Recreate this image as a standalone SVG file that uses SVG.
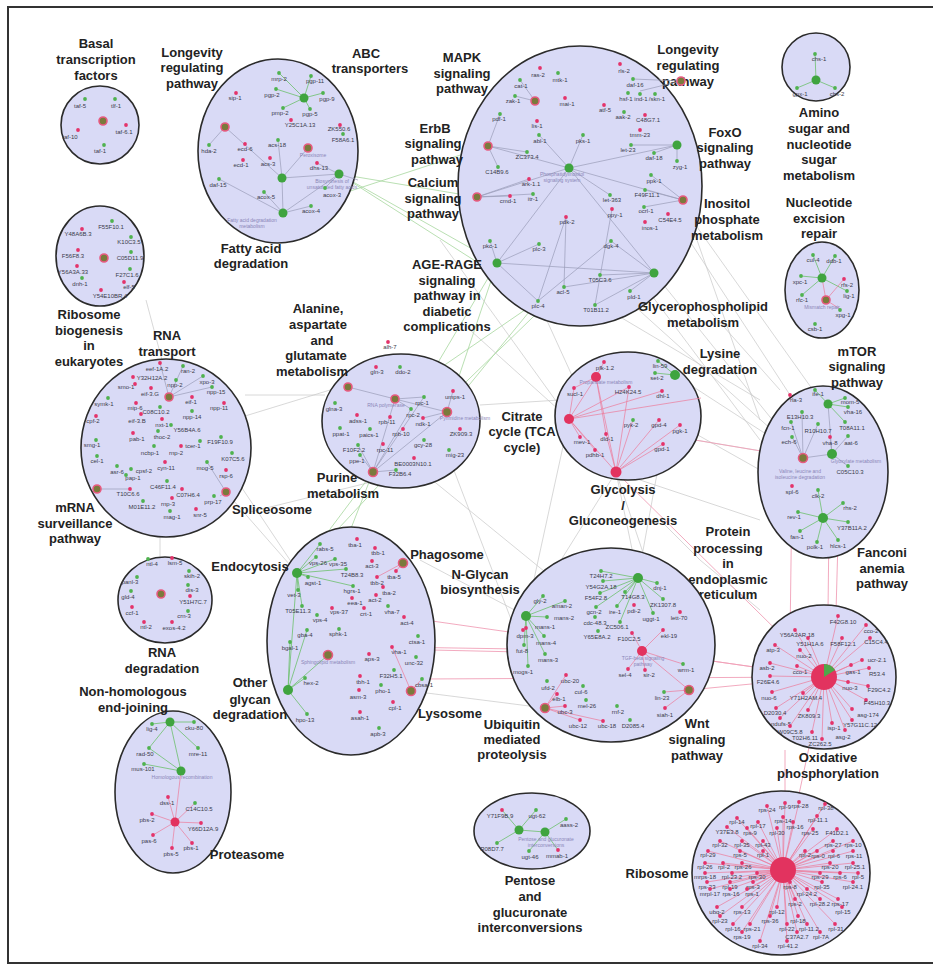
<svg xmlns="http://www.w3.org/2000/svg" width="933" height="967" viewBox="0 0 933 967">
<style>
.c{fill:#d9daf6;stroke:#2b2b2b;stroke-width:1.6}
.t{font-family:"Liberation Sans",Arial,sans-serif;font-weight:bold;font-size:13px;fill:#222;text-anchor:middle}
.n{font-family:"Liberation Sans",Arial,sans-serif;font-size:6px;fill:#3a3a4a;text-anchor:middle}
.p{font-family:"Liberation Sans",Arial,sans-serif;font-size:5px;fill:#8a86b8;text-anchor:middle}
.g{fill:#4fb24f}
.r{fill:#e4336a}
.hg{fill:#3fa43f}
.hr{fill:#e2335f}
.hm{fill:#7a7a3c;stroke:#e85a80;stroke-width:1.6}
.e{stroke:#9a9cb8;stroke-width:0.7;fill:none}
.eg{stroke:#6cc06c;stroke-width:0.8;fill:none}
.er{stroke:#ec7a9a;stroke-width:0.7;fill:none}
.x{stroke:#c8c8c8;stroke-width:0.9;fill:none;opacity:0.8}
.xg{stroke:#a8d8a0;stroke-width:0.9;fill:none;opacity:0.9}
.xr{stroke:#f0a0b8;stroke-width:0.9;fill:none}
</style>
<rect x="8" y="7" width="940" height="956" fill="#fff" stroke="#333" stroke-width="2"/>

<g id="connectors-between">
<path class="x" d="M146 300L162 360M245 395L325 395M480 405L560 400M226 492L297 573M160 537L160 557M230 470L330 620M250 512L420 470M232 420L330 390"/>
<path class="xg" d="M339 174L477 197M339 174L497 263M283 213L488 146M339 174L538 301M447 412L497 263M447 412L538 301M373 472L497 263M373 472L564 287M297 573L373 472M297 573L447 412M288 690L373 472M395 399L538 301"/>
<path class="x" d="M654 273L803 458M683 200L760 420M611 241L760 440M600 275L803 458M697 227L820 400M569 419L803 458M675 375L803 458M616 472L760 520M680 425L760 470M538 301L616 472M600 305L760 400M700 300L780 390M650 180L790 395M470 330L569 419M440 240L569 419"/>
<path class="x" d="M616 472L638 578M569 419L526 616M616 472L689 690M675 375L638 578M616 472L526 616M450 460L545 708M420 470L642 651M411 691L545 708M420 560L526 616M660 520L700 560M700 560L760 610"/>
<path class="xr" d="M569 419L803 458M392 647L642 651L824 677M404 617L824 677M422 679L824 677M432 650L520 652M689 690L824 677M616 472L824 677M792 486L790 640M830 437L828 612M838 540L836 612M785 750L785 860M824 677L785 860"/>
</g>

<g id="basal">
<circle class="c" cx="100" cy="125" r="39"/>
<text class="t"><tspan x="96" y="48">Basal</tspan><tspan x="96" y="64">transcription</tspan><tspan x="96" y="80">factors</tspan></text>
<circle class="hm" cx="103" cy="121" r="4"/>
<circle class="g" cx="85" cy="99" r="1.9"/><text class="n" x="80" y="108">taf-5</text>
<circle class="g" cx="115" cy="99" r="1.9"/><text class="n" x="116" y="108">tlf-1</text>
<circle class="r" cx="78" cy="130" r="1.9"/><text class="n" x="70" y="139">taf-10</text>
<circle class="r" cx="126" cy="125" r="1.9"/><text class="n" x="124" y="134">taf-6.1</text>
<circle class="g" cx="104" cy="145" r="1.9"/><text class="n" x="100" y="153">taf-1</text>
</g>

<g id="ribosome-biogenesis">
<ellipse class="c" cx="100" cy="256" rx="44" ry="50"/>
<text class="t"><tspan x="89" y="319">Ribosome</tspan><tspan x="89" y="335">biogenesis</tspan><tspan x="89" y="350">in</tspan><tspan x="89" y="366">eukaryotes</tspan></text>
<circle class="hm" cx="104" cy="258" r="4"/>
<circle class="g" cx="112" cy="221" r="1.9"/><text class="n" x="111" y="229">F55F10.1</text>
<circle class="r" cx="82" cy="229" r="1.9"/><text class="n" x="78" y="236">Y48A6B.3</text>
<circle class="g" cx="131" cy="237" r="1.9"/><text class="n" x="129" y="244">K10C3.5</text>
<circle class="r" cx="78" cy="250" r="1.9"/><text class="n" x="73" y="258">F56F8.3</text>
<circle class="g" cx="131" cy="252" r="1.9"/><text class="n" x="130" y="260">C05D11.9</text>
<circle class="r" cx="77" cy="266" r="1.9"/><text class="n" x="73" y="274">Y56A3A.33</text>
<circle class="g" cx="130" cy="269" r="1.9"/><text class="n" x="127" y="277">F27C1.6</text>
<circle class="g" cx="82" cy="278" r="1.9"/><text class="n" x="80" y="286">dnh-1</text>
<circle class="r" cx="124" cy="282" r="1.9"/><text class="n" x="129" y="289">elf-5</text>
<circle class="r" cx="101" cy="290" r="1.9"/><text class="n" x="110" y="298">Y54E10BR.4</text>
</g>

<g id="fatty-acid">
<ellipse class="c" cx="278" cy="151" rx="80" ry="92"/>
<text class="t"><tspan x="192" y="57">Longevity</tspan><tspan x="192" y="72">regulating</tspan><tspan x="192" y="88">pathway</tspan></text>
<text class="t"><tspan x="366" y="58">ABC</tspan><tspan x="370" y="73">transporters</tspan></text>
<text class="t"><tspan x="251" y="253">Fatty acid</tspan><tspan x="251" y="268">degradation</tspan></text>
<path class="eg" d="M304 98L279 73M304 98L311 76M304 98L276 89M304 98L323 93M304 98L283 108M304 98L310 109"/>
<path class="e" d="M283 213L282 178L339 174L283 213L311 206M282 178L308 148M282 178L225 127M283 213L264 192M283 213L219 179M339 174L325 188M339 174L317 163M282 178L278 140M339 174L358 180M225 127L209 145"/>
<circle class="hg" cx="304" cy="98" r="4.5"/>
<circle class="hm" cx="225" cy="127" r="4"/>
<circle class="hm" cx="308" cy="148" r="4"/>
<circle class="hg" cx="282" cy="178" r="4.5"/>
<circle class="hg" cx="339" cy="174" r="4.5"/>
<circle class="hg" cx="283" cy="213" r="4.5"/>
<text class="p" x="313" y="157">Peroxisome</text>
<text class="p"><tspan x="332" y="183">Biosynthesis of</tspan><tspan x="332" y="189">unsaturated fatty acids</tspan></text>
<text class="p"><tspan x="252" y="222">Fatty acid degradation</tspan><tspan x="252" y="228">metabolism</tspan></text>
<circle class="g" cx="279" cy="73" r="1.9"/><text class="n" x="279" y="81">mrp-2</text>
<circle class="g" cx="311" cy="76" r="1.9"/><text class="n" x="315" y="83">pgp-11</text>
<circle class="g" cx="276" cy="89" r="1.9"/><text class="n" x="272" y="97">pgp-2</text>
<circle class="g" cx="323" cy="93" r="1.9"/><text class="n" x="327" y="101">pgp-9</text>
<circle class="g" cx="283" cy="108" r="1.9"/><text class="n" x="280" y="115">pmp-2</text>
<circle class="g" cx="310" cy="109" r="1.9"/><text class="n" x="310" y="116">pgp-5</text>
<circle class="r" cx="291" cy="120" r="1.9"/><text class="n" x="300" y="127">Y25C1A.13</text>
<circle class="r" cx="340" cy="125" r="1.9"/><text class="n" x="339" y="131">ZK550.6</text>
<circle class="r" cx="236" cy="93" r="1.9"/><text class="n" x="235" y="100">sip-1</text>
<circle class="g" cx="343" cy="134" r="1.9"/><text class="n" x="343" y="142">F58A6.1</text>
<circle class="g" cx="209" cy="145" r="1.9"/><text class="n" x="209" y="153">hda-2</text>
<circle class="r" cx="245" cy="144" r="1.9"/><text class="n" x="245" y="151">ecd-6</text>
<circle class="g" cx="278" cy="140" r="1.9"/><text class="n" x="277" y="147">acs-18</text>
<circle class="r" cx="243" cy="160" r="1.9"/><text class="n" x="241" y="167">ecd-1</text>
<circle class="r" cx="270" cy="158" r="1.9"/><text class="n" x="268" y="166">acs-3</text>
<circle class="r" cx="317" cy="163" r="1.9"/><text class="n" x="319" y="170">dhs-13</text>
<circle class="g" cx="219" cy="179" r="1.9"/><text class="n" x="218" y="187">daf-15</text>
<circle class="g" cx="264" cy="192" r="1.9"/><text class="n" x="266" y="199">acox-5</text>
<circle class="g" cx="325" cy="188" r="1.9"/><text class="n" x="332" y="197">acox-3</text>
<circle class="g" cx="311" cy="206" r="1.9"/><text class="n" x="311" y="213">acox-4</text>
</g>

<g id="signaling">
<ellipse class="c" cx="580" cy="186" rx="122" ry="140"/>
<text class="t"><tspan x="462" y="62">MAPK</tspan><tspan x="462" y="78">signaling</tspan><tspan x="462" y="93">pathway</tspan></text>
<text class="t"><tspan x="435" y="133">ErbB</tspan><tspan x="433" y="148">signaling</tspan><tspan x="437" y="164">pathway</tspan></text>
<text class="t"><tspan x="433" y="187">Calcium</tspan><tspan x="433" y="203">signaling</tspan><tspan x="433" y="218">pathway</tspan></text>
<text class="t"><tspan x="447" y="269">AGE-RAGE</tspan><tspan x="447" y="285">signaling</tspan><tspan x="447" y="300">pathway in</tspan><tspan x="447" y="316">diabetic</tspan><tspan x="447" y="331">complications</tspan></text>
<text class="t"><tspan x="688" y="54">Longevity</tspan><tspan x="688" y="70">regulating</tspan><tspan x="688" y="86">pathway</tspan></text>
<text class="t"><tspan x="725" y="137">FoxO</tspan><tspan x="725" y="152">signaling</tspan><tspan x="725" y="168">pathway</tspan></text>
<text class="t"><tspan x="727" y="208">Inositol</tspan><tspan x="727" y="224">phosphate</tspan><tspan x="727" y="240">metabolism</tspan></text>
<text class="t"><tspan x="703" y="311">Glycerophospholipid</tspan><tspan x="703" y="327">metabolism</tspan></text>
<path class="e" d="M488 146L569 168M477 197L569 168M497 263L569 168M654 273L569 168M683 200L569 168M677 145L569 168M488 146L500 114M488 146L527 152M488 146L498 167M477 197L510 196M477 197L533 194M477 197L529 179M497 263L490 241M497 263L539 244M497 263L538 301M497 263L654 273M654 273L611 241M654 273L600 275M654 273L564 287M654 273L595 305M654 273L630 291M538 301L566 217M538 301L611 241M569 168L583 135M569 168L610 195M569 168L539 135M683 200L645 190M683 200L651 175M683 200L644 207M677 145L654 153M677 145L677 161M677 145L631 145M681 81L633 79M681 81L640 91M535 101L515 96M535 101L520 80M595 305L612 209M564 287L566 217"/>
<circle class="hm" cx="535" cy="101" r="4"/>
<circle class="hm" cx="488" cy="146" r="4"/>
<circle class="hg" cx="569" cy="168" r="4.5"/>
<circle class="hm" cx="477" cy="197" r="4"/>
<circle class="hg" cx="497" cy="263" r="4.5"/>
<circle class="hg" cx="654" cy="273" r="4.5"/>
<circle class="hm" cx="681" cy="81" r="4"/>
<circle class="hg" cx="677" cy="145" r="4.5"/>
<circle class="hm" cx="683" cy="200" r="4"/>
<text class="p"><tspan x="562" y="176">Phosphatidylinositol</tspan><tspan x="562" y="182">signaling system</tspan></text>
<circle class="r" cx="540" cy="68" r="1.9"/><text class="n" x="538" y="77">ras-2</text>
<circle class="g" cx="558" cy="73" r="1.9"/><text class="n" x="560" y="82">mtk-1</text>
<circle class="g" cx="520" cy="80" r="1.9"/><text class="n" x="521" y="88">cat-1</text>
<circle class="g" cx="515" cy="96" r="1.9"/><text class="n" x="513" y="103">zak-1</text>
<circle class="r" cx="565" cy="98" r="1.9"/><text class="n" x="567" y="106">mai-1</text>
<circle class="g" cx="500" cy="114" r="1.9"/><text class="n" x="499" y="121">pdf-1</text>
<circle class="r" cx="537" cy="121" r="1.9"/><text class="n" x="537" y="128">lis-1</text>
<circle class="g" cx="539" cy="135" r="1.9"/><text class="n" x="540" y="143">abl-1</text>
<circle class="g" cx="583" cy="135" r="1.9"/><text class="n" x="583" y="143">pks-1</text>
<circle class="g" cx="527" cy="152" r="1.9"/><text class="n" x="527" y="159">ZC373.4</text>
<circle class="g" cx="498" cy="167" r="1.9"/><text class="n" x="497" y="174">C14B9.6</text>
<circle class="r" cx="529" cy="179" r="1.9"/><text class="n" x="531" y="186">ark-1.1</text>
<circle class="r" cx="510" cy="196" r="1.9"/><text class="n" x="508" y="203">cmd-1</text>
<circle class="g" cx="533" cy="194" r="1.9"/><text class="n" x="533" y="201">itr-1</text>
<circle class="g" cx="610" cy="195" r="1.9"/><text class="n" x="612" y="202">let-363</text>
<circle class="g" cx="645" cy="190" r="1.9"/><text class="n" x="647" y="197">F49F11.1</text>
<circle class="r" cx="566" cy="217" r="1.9"/><text class="n" x="567" y="224">pdk-2</text>
<circle class="r" cx="612" cy="209" r="1.9"/><text class="n" x="615" y="217">ppy-1</text>
<circle class="g" cx="644" cy="207" r="1.9"/><text class="n" x="646" y="213">ocrl-1</text>
<circle class="r" cx="668" cy="214" r="1.9"/><text class="n" x="670" y="222">C54E4.5</text>
<circle class="r" cx="645" cy="222" r="1.9"/><text class="n" x="650" y="230">inos-1</text>
<circle class="g" cx="490" cy="241" r="1.9"/><text class="n" x="490" y="248">pkc-1</text>
<circle class="g" cx="539" cy="244" r="1.9"/><text class="n" x="539" y="251">plc-3</text>
<circle class="g" cx="611" cy="241" r="1.9"/><text class="n" x="611" y="248">dgk-4</text>
<circle class="g" cx="600" cy="275" r="1.9"/><text class="n" x="600" y="282">T05C3.6</text>
<circle class="g" cx="564" cy="287" r="1.9"/><text class="n" x="563" y="294">acl-5</text>
<circle class="g" cx="538" cy="301" r="1.9"/><text class="n" x="538" y="308">plc-4</text>
<circle class="g" cx="595" cy="305" r="1.9"/><text class="n" x="596" y="312">T01B11.2</text>
<circle class="g" cx="630" cy="291" r="1.9"/><text class="n" x="634" y="299">pld-1</text>
<circle class="r" cx="620" cy="64" r="1.9"/><text class="n" x="624" y="73">rls-2</text>
<circle class="g" cx="633" cy="79" r="1.9"/><text class="n" x="635" y="87">daf-16</text>
<circle class="g" cx="628" cy="93" r="1.9"/><text class="n" x="626" y="101">hsf-1</text>
<circle class="g" cx="640" cy="94" r="1.9"/><text class="n" x="641" y="101">ind-1</text>
<circle class="g" cx="655" cy="94" r="1.9"/><text class="n" x="657" y="101">/skn-1</text>
<circle class="r" cx="604" cy="105" r="1.9"/><text class="n" x="605" y="112">atf-5</text>
<circle class="g" cx="624" cy="112" r="1.9"/><text class="n" x="623" y="119">aak-2</text>
<circle class="r" cx="645" cy="115" r="1.9"/><text class="n" x="648" y="122">C48G7.1</text>
<circle class="r" cx="640" cy="130" r="1.9"/><text class="n" x="640" y="137">tmm-23</text>
<circle class="g" cx="631" cy="145" r="1.9"/><text class="n" x="628" y="152">let-23</text>
<circle class="g" cx="654" cy="153" r="1.9"/><text class="n" x="654" y="160">daf-18</text>
<circle class="g" cx="677" cy="161" r="1.9"/><text class="n" x="680" y="169">zyg-1</text>
<circle class="g" cx="651" cy="175" r="1.9"/><text class="n" x="654" y="183">ppk-1</text>
</g>

<g id="amino-sugar">
<circle class="c" cx="816" cy="67" r="34"/>
<text class="t"><tspan x="819" y="117">Amino</tspan><tspan x="819" y="133">sugar and</tspan><tspan x="819" y="149">nucleotide</tspan><tspan x="819" y="164">sugar</tspan><tspan x="819" y="180">metabolism</tspan></text>
<path class="eg" d="M816 80L815 54M816 80L797 88M816 80L835 88"/>
<circle class="hg" cx="816" cy="80" r="4.5"/>
<circle class="g" cx="815" cy="54" r="1.9"/><text class="n" x="819" y="61">chs-1</text>
<circle class="g" cx="797" cy="88" r="1.9"/><text class="n" x="800" y="96">gpx-1</text>
<circle class="g" cx="835" cy="88" r="1.9"/><text class="n" x="837" y="96">chs-2</text>
</g>

<g id="nucleotide-excision">
<ellipse class="c" cx="822" cy="290" rx="37" ry="48"/>
<text class="t"><tspan x="819" y="207">Nucleotide</tspan><tspan x="819" y="223">excision</tspan><tspan x="819" y="238">repair</tspan></text>
<path class="eg" d="M822 278L813 255M822 278L835 256M822 278L801 276M822 278L847 291M822 278L802 295"/>
<path class="er" d="M826 300L822 278M826 300L844 279M826 300L840 309"/>
<circle class="hg" cx="822" cy="278" r="4.5"/>
<circle class="hm" cx="826" cy="300" r="4"/>
<text class="p" x="822" y="309">Mismatch repair</text>
<circle class="g" cx="813" cy="255" r="1.9"/><text class="n" x="813" y="262">cul-4</text>
<circle class="g" cx="835" cy="256" r="1.9"/><text class="n" x="834" y="263">ddb-1</text>
<circle class="g" cx="801" cy="276" r="1.9"/><text class="n" x="800" y="284">xpc-1</text>
<circle class="r" cx="844" cy="279" r="1.9"/><text class="n" x="847" y="287">rfs-2</text>
<circle class="g" cx="847" cy="291" r="1.9"/><text class="n" x="849" y="298">lig-1</text>
<circle class="g" cx="802" cy="295" r="1.9"/><text class="n" x="802" y="302">rfc-1</text>
<circle class="g" cx="840" cy="310" r="1.9"/><text class="n" x="843" y="317">xpg-1</text>
<circle class="g" cx="815" cy="324" r="1.9"/><text class="n" x="815" y="331">csb-1</text>
</g>

<g id="rna-transport">
<ellipse class="c" cx="166" cy="448" rx="85" ry="89"/>
<text class="t"><tspan x="167" y="340">RNA</tspan><tspan x="167" y="356">transport</tspan></text>
<text class="t"><tspan x="75" y="512">mRNA</tspan><tspan x="75" y="528">surveillance</tspan><tspan x="75" y="543">pathway</tspan></text>
<text class="t" x="272" y="514">Spliceosome</text>
<path class="e" d="M169 397L160 363M169 397L183 366M169 397L203 376M169 397L212 387M97 489L130 489M226 492L220 496M226 492L207 462"/>
<circle class="hm" cx="169" cy="397" r="4"/>
<circle class="hm" cx="97" cy="489" r="4"/>
<circle class="hm" cx="226" cy="492" r="4"/>
<circle class="r" cx="160" cy="363" r="1.9"/><text class="n" x="157" y="371">eef-1A.2</text>
<circle class="g" cx="183" cy="366" r="1.9"/><text class="n" x="188" y="373">ran-2</text>
<circle class="r" cx="133" cy="377" r="1.9"/><text class="n" x="152" y="380">Y32H12A.2</text>
<circle class="g" cx="176" cy="380" r="1.9"/><text class="n" x="175" y="387">npp-2</text>
<circle class="g" cx="203" cy="376" r="1.9"/><text class="n" x="207" y="384">xpo-3</text>
<circle class="r" cx="135" cy="384" r="1.9"/><text class="n" x="126" y="389">smo-1</text>
<circle class="r" cx="151" cy="388" r="1.9"/><text class="n" x="150" y="396">eif-3.G</text>
<circle class="g" cx="212" cy="387" r="1.9"/><text class="n" x="216" y="394">npp-15</text>
<circle class="g" cx="108" cy="398" r="1.9"/><text class="n" x="104" y="406">symk-1</text>
<circle class="r" cx="136" cy="403" r="1.9"/><text class="n" x="135" y="410">mip-6</text>
<circle class="g" cx="160" cy="407" r="1.9"/><text class="n" x="156" y="414">C08C10.2</text>
<circle class="r" cx="192" cy="397" r="1.9"/><text class="n" x="191" y="404">eif-1</text>
<circle class="r" cx="224" cy="403" r="1.9"/><text class="n" x="219" y="410">npp-11</text>
<circle class="r" cx="96" cy="416" r="1.9"/><text class="n" x="93" y="423">cpf-2</text>
<circle class="r" cx="141" cy="414" r="1.9"/><text class="n" x="137" y="423">eif-3.B</text>
<circle class="r" cx="162" cy="419" r="1.9"/><text class="n" x="162" y="427">nxt-1</text>
<circle class="g" cx="192" cy="411" r="1.9"/><text class="n" x="192" y="419">npp-14</text>
<circle class="g" cx="171" cy="425" r="1.9"/><text class="n" x="187" y="432">Y56B4A.6</text>
<circle class="r" cx="133" cy="433" r="1.9"/><text class="n" x="137" y="441">pab-1</text>
<circle class="g" cx="158" cy="431" r="1.9"/><text class="n" x="162" y="439">thoc-2</text>
<circle class="g" cx="96" cy="440" r="1.9"/><text class="n" x="92" y="447">smg-1</text>
<circle class="g" cx="221" cy="437" r="1.9"/><text class="n" x="220" y="444">F19F10.9</text>
<circle class="g" cx="200" cy="441" r="1.9"/><text class="n" x="193" y="448">tcer-1</text>
<circle class="g" cx="154" cy="446" r="1.9"/><text class="n" x="150" y="455">ncbp-1</text>
<circle class="r" cx="181" cy="446" r="1.9"/><text class="n" x="176" y="455">rnp-2</text>
<circle class="g" cx="97" cy="456" r="1.9"/><text class="n" x="97" y="463">cel-1</text>
<circle class="g" cx="232" cy="453" r="1.9"/><text class="n" x="233" y="461">K07C5.6</text>
<circle class="r" cx="165" cy="462" r="1.9"/><text class="n" x="166" y="470">cyn-11</text>
<circle class="g" cx="207" cy="462" r="1.9"/><text class="n" x="205" y="470">mog-5</text>
<circle class="g" cx="117" cy="466" r="1.9"/><text class="n" x="117" y="474">asr-6</text>
<circle class="g" cx="131" cy="469" r="1.9"/><text class="n" x="144" y="473">cpsf-2</text>
<circle class="g" cx="126" cy="475" r="1.9"/><text class="n" x="133" y="480">pap-1</text>
<circle class="r" cx="226" cy="470" r="1.9"/><text class="n" x="226" y="478">rsp-6</text>
<circle class="g" cx="167" cy="481" r="1.9"/><text class="n" x="163" y="489">C46F11.4</text>
<circle class="r" cx="130" cy="489" r="1.9"/><text class="n" x="128" y="496">T10C6.6</text>
<circle class="r" cx="182" cy="489" r="1.9"/><text class="n" x="188" y="497">C07H6.4</text>
<circle class="g" cx="214" cy="496" r="1.9"/><text class="n" x="213" y="504">prp-17</text>
<circle class="r" cx="172" cy="498" r="1.9"/><text class="n" x="168" y="506">rnp-3</text>
<circle class="g" cx="143" cy="501" r="1.9"/><text class="n" x="142" y="509">M01E11.2</text>
<circle class="g" cx="170" cy="511" r="1.9"/><text class="n" x="172" y="519">mag-1</text>
<circle class="r" cx="196" cy="509" r="1.9"/><text class="n" x="200" y="517">snr-5</text>
</g>

<g id="alanine-purine">
<ellipse class="c" cx="401" cy="421" rx="79" ry="67"/>
<text class="t"><tspan x="318" y="313">Alanine,</tspan><tspan x="318" y="329">aspartate</tspan><tspan x="322" y="345">and</tspan><tspan x="316" y="360">glutamate</tspan><tspan x="312" y="376">metabolism</tspan></text>
<text class="t"><tspan x="337" y="482">Purine</tspan><tspan x="343" y="498">metabolism</tspan></text>
<text class="t"><tspan x="522" y="421">Citrate</tspan><tspan x="522" y="436">cycle (TCA</tspan><tspan x="522" y="452">cycle)</tspan></text>
<path class="e" d="M373 472L395 399M373 472L447 412M395 399L447 412M373 472L411 409M373 472L424 397M395 399L424 397M395 399L411 409M447 412L453 391M447 412L423 418M373 472L360 455M373 472L358 445M373 472L396 470M348 387L395 399"/>
<circle class="hm" cx="348" cy="387" r="4"/>
<circle class="hm" cx="395" cy="399" r="4"/>
<circle class="hm" cx="447" cy="412" r="4.5"/>
<circle class="hm" cx="373" cy="472" r="4.5"/>
<text class="p" x="386" y="407">RNA polymerase</text>
<text class="p" x="465" y="420">Pyrimidine metabolism</text>
<circle class="r" cx="388" cy="342" r="1.9"/><text class="n" x="390" y="349">alh-7</text>
<circle class="r" cx="376" cy="367" r="1.9"/><text class="n" x="377" y="374">gln-3</text>
<circle class="g" cx="400" cy="367" r="1.9"/><text class="n" x="403" y="374">ddo-2</text>
<circle class="g" cx="424" cy="397" r="1.9"/><text class="n" x="422" y="405">rpc-1</text>
<circle class="r" cx="453" cy="391" r="1.9"/><text class="n" x="455" y="399">umps-1</text>
<circle class="g" cx="411" cy="409" r="1.9"/><text class="n" x="413" y="417">rpc-2</text>
<circle class="g" cx="335" cy="403" r="1.9"/><text class="n" x="334" y="411">glna-3</text>
<circle class="r" cx="357" cy="415" r="1.9"/><text class="n" x="358" y="423">adss-1</text>
<circle class="r" cx="390" cy="417" r="1.9"/><text class="n" x="387" y="424">rpb-11</text>
<circle class="r" cx="423" cy="418" r="1.9"/><text class="n" x="423" y="426">ndk-1</text>
<circle class="g" cx="340" cy="428" r="1.9"/><text class="n" x="341" y="436">ppat-1</text>
<circle class="g" cx="370" cy="429" r="1.9"/><text class="n" x="369" y="437">paics-1</text>
<circle class="r" cx="403" cy="429" r="1.9"/><text class="n" x="401" y="436">rpb-10</text>
<circle class="r" cx="460" cy="429" r="1.9"/><text class="n" x="461" y="436">ZK909.3</text>
<circle class="g" cx="424" cy="440" r="1.9"/><text class="n" x="423" y="447">gcy-28</text>
<circle class="g" cx="358" cy="445" r="1.9"/><text class="n" x="354" y="452">F10F2.2</text>
<circle class="r" cx="383" cy="444" r="1.9"/><text class="n" x="385" y="452">rpc-11</text>
<circle class="g" cx="449" cy="450" r="1.9"/><text class="n" x="455" y="457">mig-23</text>
<circle class="g" cx="360" cy="455" r="1.9"/><text class="n" x="357" y="463">ppe-1</text>
<circle class="r" cx="414" cy="458" r="1.9"/><text class="n" x="413" y="466">BE0003N10.1</text>
<circle class="g" cx="396" cy="470" r="1.9"/><text class="n" x="400" y="476">F32B6.4</text>
</g>

<g id="glycolysis">
<ellipse class="c" cx="628" cy="416" rx="73" ry="64"/>
<text class="t"><tspan x="623" y="494">Glycolysis</tspan><tspan x="623" y="510">/</tspan><tspan x="623" y="525">Gluconeogenesis</tspan></text>
<text class="t"><tspan x="720" y="358">Lysine</tspan><tspan x="720" y="374">degradation</tspan></text>
<path class="er" d="M596 377L569 419L616 472L596 377M596 377L604 362M596 377L574 388M596 377L606 434M569 419L574 388M569 419L580 437M569 419L595 450M569 419L629 387M569 419L662 391M569 419L701 398M616 472L629 387M616 472L659 420M616 472L680 425M616 472L663 444M616 472L606 434M616 472L633 420"/>
<path class="eg" d="M675 375L658 361M675 375L655 373"/>
<circle class="hr" cx="596" cy="377" r="5"/>
<circle class="hg" cx="675" cy="375" r="5"/>
<circle class="hr" cx="569" cy="419" r="5"/>
<circle class="hr" cx="616" cy="472" r="5.5"/>
<text class="p" x="606" y="384">Propanoate metabolism</text>
<circle class="r" cx="604" cy="362" r="1.9"/><text class="n" x="605" y="370">pfk-1.2</text>
<circle class="g" cx="658" cy="361" r="1.9"/><text class="n" x="660" y="368">lin-59</text>
<circle class="g" cx="655" cy="373" r="1.9"/><text class="n" x="657" y="380">set-2</text>
<circle class="r" cx="574" cy="388" r="1.9"/><text class="n" x="575" y="396">sucl-1</text>
<circle class="r" cx="629" cy="387" r="1.9"/><text class="n" x="628" y="394">H24K24.5</text>
<circle class="r" cx="662" cy="391" r="1.9"/><text class="n" x="663" y="398">dhl-1</text>
<circle class="g" cx="633" cy="420" r="1.9"/><text class="n" x="631" y="427">pyk-2</text>
<circle class="r" cx="659" cy="420" r="1.9"/><text class="n" x="659" y="427">gpd-4</text>
<circle class="r" cx="680" cy="425" r="1.9"/><text class="n" x="680" y="433">pgk-1</text>
<circle class="r" cx="580" cy="437" r="1.9"/><text class="n" x="582" y="444">mev-1</text>
<circle class="r" cx="606" cy="434" r="1.9"/><text class="n" x="607" y="441">dld-1</text>
<circle class="r" cx="663" cy="444" r="1.9"/><text class="n" x="662" y="451">gpd-1</text>
<circle class="r" cx="595" cy="450" r="1.9"/><text class="n" x="595" y="457">pdhb-1</text>
</g>

<g id="mtor">
<ellipse class="c" cx="823" cy="472" rx="65" ry="86"/>
<text class="t"><tspan x="857" y="356">mTOR</tspan><tspan x="857" y="371">signaling</tspan><tspan x="857" y="387">pathway</tspan></text>
<text class="t"><tspan x="882" y="557">Fanconi</tspan><tspan x="882" y="573">anemia</tspan><tspan x="882" y="588">pathway</tspan></text>
<text class="t"><tspan x="728" y="536">Protein</tspan><tspan x="728" y="553">processing</tspan><tspan x="728" y="568">in</tspan><tspan x="728" y="584">endoplasmic</tspan><tspan x="728" y="599">reticulum</tspan></text>
<path class="eg" d="M828 404L815 390M828 404L845 398M828 404L848 407M828 404L845 422M823 518L798 512M823 518L800 531M823 518L817 542M823 518L838 540M823 518L848 522M823 518L843 503M823 518L818 490"/>
<path class="e" d="M803 458L832 454M803 458L792 437M803 458L791 422M803 458L802 412M803 458L818 424M832 454L848 436M832 454L830 437M832 454L848 466M828 404L832 454"/>
<circle class="hg" cx="828" cy="404" r="4.5"/>
<circle class="hm" cx="803" cy="458" r="4.5"/>
<circle class="hg" cx="832" cy="454" r="5"/>
<circle class="hg" cx="823" cy="518" r="5"/>
<text class="p" x="856" y="463">Glyoxylate metabolism</text>
<text class="p"><tspan x="800" y="473">Valine, leucine and</tspan><tspan x="800" y="479">isoleucine degradation</tspan></text>
<circle class="g" cx="815" cy="390" r="1.9"/><text class="n" x="818" y="396">ife-1</text>
<circle class="r" cx="790" cy="395" r="1.9"/><text class="n" x="796" y="402">rla-3</text>
<circle class="g" cx="845" cy="398" r="1.9"/><text class="n" x="850" y="404">mom-5</text>
<circle class="g" cx="848" cy="407" r="1.9"/><text class="n" x="853" y="414">vha-16</text>
<circle class="g" cx="802" cy="412" r="1.9"/><text class="n" x="800" y="419">E13H10.3</text>
<circle class="g" cx="845" cy="422" r="1.9"/><text class="n" x="852" y="430">T08A11.1</text>
<circle class="g" cx="791" cy="422" r="1.9"/><text class="n" x="788" y="430">fcn-1</text>
<circle class="g" cx="818" cy="424" r="1.9"/><text class="n" x="818" y="433">R10H10.7</text>
<circle class="r" cx="830" cy="437" r="1.9"/><text class="n" x="830" y="445">vha-8</text>
<circle class="g" cx="848" cy="436" r="1.9"/><text class="n" x="851" y="445">aat-6</text>
<circle class="g" cx="792" cy="437" r="1.9"/><text class="n" x="789" y="444">ech-6</text>
<circle class="g" cx="848" cy="466" r="1.9"/><text class="n" x="850" y="474">C05C10.3</text>
<circle class="r" cx="792" cy="486" r="1.9"/><text class="n" x="792" y="494">spl-6</text>
<circle class="g" cx="818" cy="490" r="1.9"/><text class="n" x="818" y="498">clk-2</text>
<circle class="g" cx="843" cy="503" r="1.9"/><text class="n" x="850" y="510">rhs-2</text>
<circle class="g" cx="798" cy="512" r="1.9"/><text class="n" x="794" y="519">rev-1</text>
<circle class="g" cx="848" cy="522" r="1.9"/><text class="n" x="852" y="530">Y37B11A.2</text>
<circle class="g" cx="800" cy="531" r="1.9"/><text class="n" x="797" y="539">fan-1</text>
<circle class="g" cx="817" cy="542" r="1.9"/><text class="n" x="815" y="549">polk-1</text>
<circle class="g" cx="838" cy="540" r="1.9"/><text class="n" x="838" y="548">hlcs-1</text>
</g>

<g id="rna-degradation">
<ellipse class="c" cx="165" cy="600" rx="47" ry="43"/>
<text class="t"><tspan x="162" y="657">RNA</tspan><tspan x="162" y="673">degradation</tspan></text>
<circle class="hm" cx="161" cy="594" r="4"/>
<circle class="g" cx="148" cy="559" r="1.9"/><text class="n" x="152" y="566">ntl-4</text>
<circle class="r" cx="172" cy="558" r="1.9"/><text class="n" x="175" y="565">lsm-5</text>
<circle class="g" cx="189" cy="571" r="1.9"/><text class="n" x="192" y="578">skih-2</text>
<circle class="g" cx="137" cy="577" r="1.9"/><text class="n" x="130" y="584">panl-3</text>
<circle class="g" cx="188" cy="585" r="1.9"/><text class="n" x="192" y="592">dis-3</text>
<circle class="g" cx="131" cy="591" r="1.9"/><text class="n" x="128" y="599">gld-4</text>
<circle class="r" cx="190" cy="596" r="1.9"/><text class="n" x="193" y="604">Y51H7C.7</text>
<circle class="r" cx="132" cy="607" r="1.9"/><text class="n" x="132" y="615">ccf-1</text>
<circle class="g" cx="188" cy="611" r="1.9"/><text class="n" x="184" y="618">crn-3</text>
<circle class="r" cx="144" cy="622" r="1.9"/><text class="n" x="146" y="629">ntl-2</text>
<circle class="r" cx="172" cy="622" r="1.9"/><text class="n" x="174" y="630">exos-4.2</text>
</g>

<g id="endocytosis">
<ellipse class="c" cx="351" cy="641" rx="84" ry="114"/>
<text class="t" x="250" y="571">Endocytosis</text>
<text class="t" x="447" y="559">Phagosome</text>
<text class="t"><tspan x="480" y="579">N-Glycan</tspan><tspan x="480" y="594">biosynthesis</tspan></text>
<text class="t"><tspan x="250" y="687">Other</tspan><tspan x="250" y="704">glycan</tspan><tspan x="250" y="719">degradation</tspan></text>
<text class="t" x="450" y="718">Lysosome</text>
<path class="eg" d="M297 573L320 544M297 573L316 557M297 573L335 559M297 573L346 569M297 573L308 577M297 573L298 590M297 573L302 606M297 573L353 586M288 690L290 642M288 690L307 630M288 690L305 678M288 690L328 655M288 690L307 714M288 690L297 573"/>
<path class="er" d="M403 563L396 571M403 563L377 577M411 691L422 679M411 691L392 647"/>
<circle class="hg" cx="297" cy="573" r="5"/>
<circle class="hm" cx="403" cy="563" r="4.5"/>
<circle class="hm" cx="328" cy="655" r="4.5"/>
<circle class="hg" cx="288" cy="690" r="5"/>
<circle class="hm" cx="411" cy="691" r="4.5"/>
<text class="p" x="328" y="664">Sphingolipid metabolism</text>
<circle class="g" cx="320" cy="544" r="1.9"/><text class="n" x="325" y="551">rabs-5</text>
<circle class="r" cx="357" cy="539" r="1.9"/><text class="n" x="355" y="547">tba-1</text>
<circle class="r" cx="375" cy="548" r="1.9"/><text class="n" x="378" y="555">tbb-1</text>
<circle class="g" cx="316" cy="557" r="1.9"/><text class="n" x="318" y="565">vps-26</text>
<circle class="g" cx="335" cy="559" r="1.9"/><text class="n" x="338" y="566">vps-35</text>
<circle class="r" cx="372" cy="561" r="1.9"/><text class="n" x="372" y="568">act-3</text>
<circle class="g" cx="346" cy="569" r="1.9"/><text class="n" x="352" y="577">T24B8.3</text>
<circle class="r" cx="396" cy="571" r="1.9"/><text class="n" x="394" y="579">tba-5</text>
<circle class="g" cx="308" cy="577" r="1.9"/><text class="n" x="313" y="585">agst-1</text>
<circle class="r" cx="377" cy="577" r="1.9"/><text class="n" x="377" y="585">tbb-2</text>
<circle class="g" cx="353" cy="586" r="1.9"/><text class="n" x="352" y="593">hgrs-1</text>
<circle class="r" cx="383" cy="587" r="1.9"/><text class="n" x="389" y="595">tba-2</text>
<circle class="g" cx="298" cy="590" r="1.9"/><text class="n" x="294" y="597">vet-3</text>
<circle class="r" cx="376" cy="595" r="1.9"/><text class="n" x="375" y="602">act-2</text>
<circle class="r" cx="352" cy="598" r="1.9"/><text class="n" x="355" y="605">eea-1</text>
<circle class="g" cx="302" cy="606" r="1.9"/><text class="n" x="298" y="613">T05E11.3</text>
<circle class="r" cx="332" cy="608" r="1.9"/><text class="n" x="339" y="614">vps-37</text>
<circle class="r" cx="364" cy="608" r="1.9"/><text class="n" x="366" y="616">crt-1</text>
<circle class="g" cx="388" cy="606" r="1.9"/><text class="n" x="392" y="614">vha-7</text>
<circle class="g" cx="317" cy="615" r="1.9"/><text class="n" x="320" y="622">vps-4</text>
<circle class="r" cx="404" cy="617" r="1.9"/><text class="n" x="407" y="625">act-4</text>
<circle class="g" cx="307" cy="630" r="1.9"/><text class="n" x="305" y="637">gba-4</text>
<circle class="g" cx="339" cy="629" r="1.9"/><text class="n" x="338" y="636">sphk-1</text>
<circle class="g" cx="290" cy="642" r="1.9"/><text class="n" x="290" y="650">bgal-1</text>
<circle class="g" cx="418" cy="636" r="1.9"/><text class="n" x="417" y="644">ctsa-1</text>
<circle class="r" cx="392" cy="647" r="1.9"/><text class="n" x="399" y="654">vha-1</text>
<circle class="r" cx="369" cy="654" r="1.9"/><text class="n" x="372" y="661">aps-3</text>
<circle class="g" cx="416" cy="657" r="1.9"/><text class="n" x="414" y="665">unc-32</text>
<circle class="g" cx="305" cy="678" r="1.9"/><text class="n" x="311" y="685">hex-2</text>
<circle class="g" cx="394" cy="670" r="1.9"/><text class="n" x="391" y="678">F32H5.1</text>
<circle class="r" cx="360" cy="676" r="1.9"/><text class="n" x="363" y="684">tbh-1</text>
<circle class="g" cx="422" cy="679" r="1.9"/><text class="n" x="424" y="687">cbsa-1</text>
<circle class="g" cx="381" cy="685" r="1.9"/><text class="n" x="383" y="693">pho-1</text>
<circle class="r" cx="359" cy="690" r="1.9"/><text class="n" x="358" y="699">asm-3</text>
<circle class="r" cx="393" cy="702" r="1.9"/><text class="n" x="395" y="710">cpl-1</text>
<circle class="r" cx="360" cy="712" r="1.9"/><text class="n" x="360" y="720">asah-1</text>
<circle class="g" cx="379" cy="728" r="1.9"/><text class="n" x="378" y="736">apb-3</text>
<circle class="g" cx="307" cy="714" r="1.9"/><text class="n" x="305" y="722">hpo-13</text>
</g>

<g id="nhej-proteasome">
<ellipse class="c" cx="173" cy="792" rx="58" ry="81"/>
<text class="t"><tspan x="133" y="696">Non-homologous</tspan><tspan x="133" y="712">end-joining</tspan></text>
<text class="t" x="247" y="859">Proteasome</text>
<path class="eg" d="M170 722L152 724M170 722L194 722M170 722L149 748M170 722L198 748M170 722L181 771M181 771L144 764M181 771L149 748"/>
<path class="er" d="M175 822L168 797M175 822L152 814M175 822L201 823M175 822L153 835M175 822L192 843M175 822L172 848M175 822L195 803M181 771L175 822"/>
<circle class="hg" cx="170" cy="722" r="4.5"/>
<circle class="hg" cx="181" cy="771" r="4.5"/>
<circle class="hr" cx="175" cy="822" r="4.5"/>
<text class="p" x="182" y="779">Homologous recombination</text>
<circle class="g" cx="152" cy="724" r="1.9"/><text class="n" x="152" y="731">lig-4</text>
<circle class="g" cx="194" cy="722" r="1.9"/><text class="n" x="194" y="730">cku-80</text>
<circle class="g" cx="149" cy="748" r="1.9"/><text class="n" x="145" y="756">rad-50</text>
<circle class="g" cx="198" cy="748" r="1.9"/><text class="n" x="198" y="756">mre-11</text>
<circle class="g" cx="144" cy="764" r="1.9"/><text class="n" x="143" y="771">mus-101</text>
<circle class="r" cx="168" cy="797" r="1.9"/><text class="n" x="167" y="805">dss-1</text>
<circle class="g" cx="195" cy="803" r="1.9"/><text class="n" x="199" y="811">C14C10.5</text>
<circle class="r" cx="152" cy="814" r="1.9"/><text class="n" x="147" y="822">pbs-2</text>
<circle class="r" cx="201" cy="823" r="1.9"/><text class="n" x="203" y="831">Y66D12A.9</text>
<circle class="r" cx="153" cy="835" r="1.9"/><text class="n" x="149" y="843">pas-6</text>
<circle class="r" cx="192" cy="843" r="1.9"/><text class="n" x="191" y="850">pbs-1</text>
<circle class="r" cx="172" cy="848" r="1.9"/><text class="n" x="171" y="856">pbs-5</text>
</g>

<g id="nglycan-ubiquitin-wnt">
<ellipse class="c" cx="611" cy="645" rx="104" ry="97"/>
<text class="t"><tspan x="512" y="729">Ubiquitin</tspan><tspan x="512" y="744">mediated</tspan><tspan x="512" y="759">proteolysis</tspan></text>
<text class="t"><tspan x="697" y="728">Wnt</tspan><tspan x="697" y="744">signaling</tspan><tspan x="697" y="760">pathway</tspan></text>
<path class="eg" d="M638 578L601 571M638 578L603 581M638 578L657 583M638 578L600 593M638 578L625 592M638 578L663 599M638 578L617 606M638 578L653 613M638 578L596 607M638 578L620 622M526 616L543 596M526 616L565 601M526 616L547 617M526 616L544 636M526 616L524 645M526 616L545 654M526 616L528 666"/>
<path class="er" d="M642 651L632 633M642 651L663 630M642 651L628 669M642 651L645 670M642 651L683 664M642 651L689 690M545 708L566 675M545 708L557 694M545 708L565 706M545 708L580 720M545 708L603 721M689 690L664 692M689 690L665 708"/>
<circle class="hg" cx="638" cy="578" r="5"/>
<circle class="hg" cx="526" cy="616" r="5"/>
<circle class="hr" cx="642" cy="651" r="5"/>
<circle class="hm" cx="689" cy="690" r="4.5"/>
<circle class="hm" cx="545" cy="708" r="4.5"/>
<text class="p"><tspan x="643" y="660">TGF-beta signaling</tspan><tspan x="643" y="666">pathway</tspan></text>
<circle class="g" cx="601" cy="571" r="1.9"/><text class="n" x="601" y="578">T24H7.2</text>
<circle class="g" cx="603" cy="581" r="1.9"/><text class="n" x="601" y="589">Y54G2A.18</text>
<circle class="g" cx="657" cy="583" r="1.9"/><text class="n" x="660" y="590">dnj-1</text>
<circle class="g" cx="600" cy="593" r="1.9"/><text class="n" x="596" y="600">F54F2.8</text>
<circle class="g" cx="625" cy="592" r="1.9"/><text class="n" x="633" y="599">T14G8.3</text>
<circle class="g" cx="663" cy="599" r="1.9"/><text class="n" x="663" y="607">ZK1307.8</text>
<circle class="g" cx="543" cy="596" r="1.9"/><text class="n" x="540" y="603">gly-2</text>
<circle class="g" cx="565" cy="601" r="1.9"/><text class="n" x="562" y="608">aman-2</text>
<circle class="g" cx="596" cy="607" r="1.9"/><text class="n" x="594" y="614">gcn-2</text>
<circle class="g" cx="617" cy="606" r="1.9"/><text class="n" x="615" y="614">ire-1</text>
<circle class="r" cx="634" cy="605" r="1.9"/><text class="n" x="634" y="613">pdi-2</text>
<circle class="g" cx="653" cy="613" r="1.9"/><text class="n" x="651" y="621">uggt-1</text>
<circle class="r" cx="680" cy="612" r="1.9"/><text class="n" x="679" y="620">lett-70</text>
<circle class="g" cx="547" cy="617" r="1.9"/><text class="n" x="564" y="620">mans-2</text>
<circle class="g" cx="595" cy="617" r="1.9"/><text class="n" x="595" y="625">cdc-48.3</text>
<circle class="r" cx="526" cy="628" r="1.9"/><text class="n" x="545" y="629">mans-1</text>
<circle class="g" cx="620" cy="622" r="1.9"/><text class="n" x="617" y="629">ZC506.1</text>
<circle class="g" cx="598" cy="631" r="1.9"/><text class="n" x="597" y="639">Y65E8A.2</text>
<circle class="r" cx="632" cy="633" r="1.9"/><text class="n" x="629" y="641">F10C2.5</text>
<circle class="r" cx="523" cy="630" r="1.9"/><text class="n" x="525" y="638">dpm-3</text>
<circle class="g" cx="544" cy="636" r="1.9"/><text class="n" x="546" y="645">mans-4</text>
<circle class="r" cx="663" cy="630" r="1.9"/><text class="n" x="669" y="638">ekl-19</text>
<circle class="g" cx="524" cy="645" r="1.9"/><text class="n" x="522" y="653">fut-8</text>
<circle class="g" cx="545" cy="654" r="1.9"/><text class="n" x="548" y="662">mans-3</text>
<circle class="g" cx="528" cy="666" r="1.9"/><text class="n" x="523" y="674">mogs-1</text>
<circle class="g" cx="683" cy="664" r="1.9"/><text class="n" x="686" y="672">wrm-1</text>
<circle class="r" cx="628" cy="669" r="1.9"/><text class="n" x="625" y="677">sel-4</text>
<circle class="r" cx="645" cy="670" r="1.9"/><text class="n" x="649" y="677">sir-2</text>
<circle class="r" cx="566" cy="675" r="1.9"/><text class="n" x="570" y="683">ubc-20</text>
<circle class="g" cx="547" cy="681" r="1.9"/><text class="n" x="548" y="690">ufd-2</text>
<circle class="g" cx="583" cy="686" r="1.9"/><text class="n" x="581" y="694">cul-6</text>
<circle class="g" cx="664" cy="692" r="1.9"/><text class="n" x="662" y="700">lin-23</text>
<circle class="r" cx="557" cy="694" r="1.9"/><text class="n" x="559" y="701">elb-1</text>
<circle class="g" cx="586" cy="700" r="1.9"/><text class="n" x="587" y="708">mel-26</text>
<circle class="r" cx="565" cy="706" r="1.9"/><text class="n" x="565" y="714">ubc-3</text>
<circle class="g" cx="617" cy="706" r="1.9"/><text class="n" x="618" y="714">rnf-2</text>
<circle class="r" cx="665" cy="708" r="1.9"/><text class="n" x="665" y="717">siah-1</text>
<circle class="r" cx="580" cy="720" r="1.9"/><text class="n" x="578" y="728">ubc-12</text>
<circle class="r" cx="603" cy="721" r="1.9"/><text class="n" x="607" y="728">ubc-18</text>
<circle class="g" cx="630" cy="720" r="1.9"/><text class="n" x="633" y="728">D2085.4</text>
</g>

<g id="oxidative-phosphorylation">
<circle class="c" cx="824" cy="677" r="72"/>
<text class="t"><tspan x="828" y="762">Oxidative</tspan><tspan x="828" y="778">phosphorylation</tspan></text>
<path class="er" d="M824 677L838 616M824 677L795 630M824 677L808 638M824 677L842 638M824 677L866 625M824 677L870 638M824 677L775 645M824 677L800 650M824 677L862 660M824 677L770 663M824 677L797 666M824 677L851 665M824 677L869 668M824 677L770 676M824 677L848 682M824 677L868 686M824 677L772 692M824 677L803 693M824 677L866 700M824 677L776 708M824 677L808 710M824 677L852 709M824 677L780 718M824 677L790 726M824 677L832 723M824 677L852 720M824 677L812 732M824 677L845 730M824 677L822 739"/>
<circle cx="824" cy="677" r="13" fill="#e2335f"/>
<path d="M824 677L824 664A13 13 0 0 1 835 670Z" fill="#4fa84a"/>
<circle class="r" cx="838" cy="616" r="1.9"/><text class="n" x="843" y="624">F42G8.10</text>
<circle class="r" cx="795" cy="630" r="1.9"/><text class="n" x="797" y="637">Y56A3AR.18</text>
<circle class="r" cx="808" cy="638" r="1.9"/><text class="n" x="810" y="646">Y51H1A.6</text>
<circle class="r" cx="842" cy="638" r="1.9"/><text class="n" x="843" y="646">F58F12.1</text>
<circle class="r" cx="866" cy="625" r="1.9"/><text class="n" x="871" y="633">cco-2</text>
<circle class="r" cx="870" cy="638" r="1.9"/><text class="n" x="876" y="644">C15C4.4</text>
<circle class="r" cx="775" cy="645" r="1.9"/><text class="n" x="773" y="652">atp-3</text>
<circle class="r" cx="800" cy="650" r="1.9"/><text class="n" x="804" y="658">nuo-2</text>
<circle class="r" cx="862" cy="660" r="1.9"/><text class="n" x="877" y="662">ucr-2.1</text>
<circle class="r" cx="770" cy="663" r="1.9"/><text class="n" x="767" y="670">asb-2</text>
<circle class="r" cx="797" cy="666" r="1.9"/><text class="n" x="800" y="674">cco-1</text>
<circle class="r" cx="851" cy="665" r="1.9"/><text class="n" x="853" y="674">gas-1</text>
<circle class="r" cx="869" cy="668" r="1.9"/><text class="n" x="877" y="676">R53.4</text>
<circle class="r" cx="770" cy="676" r="1.9"/><text class="n" x="768" y="684">F26E4.6</text>
<circle class="r" cx="848" cy="682" r="1.9"/><text class="n" x="850" y="690">nuo-3</text>
<circle class="r" cx="868" cy="686" r="1.9"/><text class="n" x="879" y="692">F29C4.2</text>
<circle class="r" cx="772" cy="692" r="1.9"/><text class="n" x="769" y="700">nuo-6</text>
<circle class="r" cx="803" cy="693" r="1.9"/><text class="n" x="806" y="700">Y71H2AM.4</text>
<circle class="r" cx="866" cy="700" r="1.9"/><text class="n" x="877" y="705">F45H10.3</text>
<circle class="r" cx="776" cy="708" r="1.9"/><text class="n" x="775" y="715">D2030.4</text>
<circle class="r" cx="808" cy="710" r="1.9"/><text class="n" x="809" y="718">ZK809.3</text>
<circle class="r" cx="852" cy="709" r="1.9"/><text class="n" x="868" y="717">asg-174</text>
<circle class="r" cx="780" cy="718" r="1.9"/><text class="n" x="781" y="726">ndufs-5</text>
<circle class="r" cx="790" cy="726" r="1.9"/><text class="n" x="790" y="734">W09C5.8</text>
<circle class="r" cx="832" cy="723" r="1.9"/><text class="n" x="834" y="730">isp-1</text>
<circle class="r" cx="852" cy="720" r="1.9"/><text class="n" x="860" y="727">Y57G11C.12</text>
<circle class="r" cx="812" cy="732" r="1.9"/><text class="n" x="805" y="740">T02H6.11</text>
<circle class="r" cx="845" cy="730" r="1.9"/><text class="n" x="843" y="739">asg-2</text>
<circle class="r" cx="822" cy="739" r="1.9"/><text class="n" x="820" y="746">ZC262.5</text>
</g>

<g id="ribosome">
<ellipse class="c" cx="781" cy="873" rx="89" ry="82"/>
<text class="t" x="657" y="878">Ribosome</text>
<path class="er" d="M783 870L767 806M783 870L785 803M783 870L799 802M783 870L825 804M783 870L737 818M783 870L758 822M783 870L783 817M783 870L793 822M783 870L817 816M783 870L727 827M783 870L747 828M783 870L777 828M783 870L813 829M783 870L837 829M783 870L720 841M783 870L742 841M783 870L763 841M783 870L833 841M783 870L853 841M783 870L708 851M783 870L740 851M783 870L763 851M783 870L805 851M783 870L817 851M783 870L833 851M783 870L853 851M783 870L705 863M783 870L723 863M783 870L742 863M783 870L830 863M783 870L853 863M783 870L705 873M783 870L732 873M783 870L757 873M783 870L820 873M783 870L840 873M783 870L858 873M783 870L707 882M783 870L730 882M783 870L753 882M783 870L790 882M783 870L822 882M783 870L853 882M783 870L710 889M783 870L730 889M783 870L747 889M783 870L807 889M783 870L795 899M783 870L820 899M783 870L838 899M783 870L717 907M783 870L742 907M783 870L777 907M783 870L842 907M783 870L720 916M783 870L770 916M783 870L798 916M783 870L733 924M783 870L750 924M783 870L787 924M783 870L807 924M783 870L835 924M783 870L742 932M783 870L797 932M783 870L820 932M783 870L760 941M783 870L787 941"/>
<circle cx="783" cy="870" r="13" fill="#e2335f"/>
<g>
<circle class="r" cx="767" cy="806" r="1.9"/><text class="n" x="767" y="812">rps-24</text>
<circle class="r" cx="785" cy="803" r="1.9"/><text class="n" x="785" y="809">rpl-9</text>
<circle class="r" cx="799" cy="802" r="1.9"/><text class="n" x="800" y="808">rps-28</text>
<circle class="r" cx="825" cy="804" r="1.9"/><text class="n" x="826" y="810">rpl-38</text>
<circle class="r" cx="737" cy="818" r="1.9"/><text class="n" x="737" y="824">rpl-14</text>
<circle class="r" cx="758" cy="822" r="1.9"/><text class="n" x="758" y="828">rpl-17</text>
<circle class="r" cx="783" cy="817" r="1.9"/><text class="n" x="783" y="823">rps-14</text>
<circle class="r" cx="793" cy="822" r="1.9"/><text class="n" x="795" y="829">rps-16</text>
<circle class="r" cx="817" cy="816" r="1.9"/><text class="n" x="818" y="822">rpl-11.1</text>
<circle class="r" cx="727" cy="827" r="1.9"/><text class="n" x="727" y="834">Y37E3.8</text>
<circle class="r" cx="747" cy="828" r="1.9"/><text class="n" x="750" y="835">rps-9</text>
<circle class="r" cx="777" cy="828" r="1.9"/><text class="n" x="777" y="835">rpl-30</text>
<circle class="r" cx="813" cy="829" r="1.9"/><text class="n" x="810" y="835">rps-25</text>
<circle class="r" cx="837" cy="829" r="1.9"/><text class="n" x="837" y="835">F41D2.1</text>
<circle class="r" cx="720" cy="841" r="1.9"/><text class="n" x="720" y="847">rpl-32</text>
<circle class="r" cx="742" cy="841" r="1.9"/><text class="n" x="742" y="847">rpl-35</text>
<circle class="r" cx="763" cy="841" r="1.9"/><text class="n" x="763" y="847">rpl-43</text>
<circle class="r" cx="833" cy="841" r="1.9"/><text class="n" x="833" y="847">rps-27</text>
<circle class="r" cx="853" cy="841" r="1.9"/><text class="n" x="853" y="847">rps-10</text>
<circle class="r" cx="708" cy="851" r="1.9"/><text class="n" x="708" y="857">rpl-29</text>
<circle class="r" cx="740" cy="851" r="1.9"/><text class="n" x="740" y="857">rps-5</text>
<circle class="r" cx="763" cy="851" r="1.9"/><text class="n" x="763" y="857">rpl-1</text>
<circle class="r" cx="805" cy="851" r="1.9"/><text class="n" x="805" y="857">rpl-2</text>
<circle class="r" cx="817" cy="851" r="1.9"/><text class="n" x="818" y="858">rps-0</text>
<circle class="r" cx="833" cy="851" r="1.9"/><text class="n" x="834" y="858">rpl-6</text>
<circle class="r" cx="853" cy="851" r="1.9"/><text class="n" x="854" y="858">rps-11</text>
<circle class="r" cx="705" cy="863" r="1.9"/><text class="n" x="705" y="869">rpl-26</text>
<circle class="r" cx="723" cy="863" r="1.9"/><text class="n" x="724" y="869">rpl-2</text>
<circle class="r" cx="742" cy="863" r="1.9"/><text class="n" x="743" y="869">rps-26</text>
<circle class="r" cx="830" cy="863" r="1.9"/><text class="n" x="830" y="869">rps-20</text>
<circle class="r" cx="853" cy="863" r="1.9"/><text class="n" x="855" y="869">rpl-25.1</text>
<circle class="r" cx="705" cy="873" r="1.9"/><text class="n" x="705" y="879">mrps-18</text>
<circle class="r" cx="732" cy="873" r="1.9"/><text class="n" x="732" y="879">rpl-23.2</text>
<circle class="r" cx="757" cy="873" r="1.9"/><text class="n" x="757" y="879">rps-30</text>
<circle class="r" cx="820" cy="873" r="1.9"/><text class="n" x="820" y="879">rps-29</text>
<circle class="r" cx="840" cy="873" r="1.9"/><text class="n" x="840" y="879">rps-6</text>
<circle class="r" cx="858" cy="873" r="1.9"/><text class="n" x="858" y="879">rpl-5</text>
<circle class="r" cx="707" cy="882" r="1.9"/><text class="n" x="707" y="889">rps-23</text>
<circle class="r" cx="730" cy="882" r="1.9"/><text class="n" x="730" y="889">rpl-19</text>
<circle class="r" cx="753" cy="882" r="1.9"/><text class="n" x="753" y="889">rps-3</text>
<circle class="r" cx="790" cy="882" r="1.9"/><text class="n" x="790" y="889">rps-8</text>
<circle class="r" cx="822" cy="882" r="1.9"/><text class="n" x="822" y="889">rpl-35</text>
<circle class="r" cx="853" cy="882" r="1.9"/><text class="n" x="853" y="889">rpl-24.1</text>
<circle class="r" cx="710" cy="889" r="1.9"/><text class="n" x="710" y="896">mrpl-17</text>
<circle class="r" cx="730" cy="889" r="1.9"/><text class="n" x="731" y="896">rps-16</text>
<circle class="r" cx="747" cy="889" r="1.9"/><text class="n" x="752" y="896">rps-1</text>
<circle class="r" cx="807" cy="889" r="1.9"/><text class="n" x="807" y="896">rpl-24.2</text>
<circle class="r" cx="795" cy="899" r="1.9"/><text class="n" x="795" y="906">rps-2</text>
<circle class="r" cx="820" cy="899" r="1.9"/><text class="n" x="820" y="906">rpl-28.2</text>
<circle class="r" cx="838" cy="899" r="1.9"/><text class="n" x="840" y="906">rps-17</text>
<circle class="r" cx="717" cy="907" r="1.9"/><text class="n" x="717" y="914">ubq-2</text>
<circle class="r" cx="742" cy="907" r="1.9"/><text class="n" x="742" y="914">rps-13</text>
<circle class="r" cx="777" cy="907" r="1.9"/><text class="n" x="777" y="914">rpl-12</text>
<circle class="r" cx="842" cy="907" r="1.9"/><text class="n" x="843" y="914">rpl-15</text>
<circle class="r" cx="720" cy="916" r="1.9"/><text class="n" x="720" y="923">rpl-23</text>
<circle class="r" cx="770" cy="916" r="1.9"/><text class="n" x="770" y="923">rps-36</text>
<circle class="r" cx="798" cy="916" r="1.9"/><text class="n" x="798" y="923">rpl-18</text>
<circle class="r" cx="733" cy="924" r="1.9"/><text class="n" x="733" y="931">rpl-16</text>
<circle class="r" cx="750" cy="924" r="1.9"/><text class="n" x="752" y="931">rps-21</text>
<circle class="r" cx="787" cy="924" r="1.9"/><text class="n" x="787" y="931">rpl-22</text>
<circle class="r" cx="807" cy="924" r="1.9"/><text class="n" x="809" y="931">rpl-11.2</text>
<circle class="r" cx="835" cy="924" r="1.9"/><text class="n" x="836" y="931">rpl-31</text>
<circle class="r" cx="742" cy="932" r="1.9"/><text class="n" x="742" y="939">rps-19</text>
<circle class="r" cx="797" cy="932" r="1.9"/><text class="n" x="797" y="939">C37A2.7</text>
<circle class="r" cx="820" cy="932" r="1.9"/><text class="n" x="821" y="939">rpl-7A</text>
<circle class="r" cx="760" cy="941" r="1.9"/><text class="n" x="760" y="948">rpl-34</text>
<circle class="r" cx="787" cy="941" r="1.9"/><text class="n" x="788" y="948">rpl-41.2</text>
</g>
</g>

<g id="pentose">
<ellipse class="c" cx="532" cy="831" rx="58" ry="38"/>
<text class="t"><tspan x="530" y="885">Pentose</tspan><tspan x="530" y="901">and</tspan><tspan x="530" y="917">glucuronate</tspan><tspan x="530" y="932">interconversions</tspan></text>
<path class="eg" d="M519 830L545 832M519 830L502 810M519 830L536 810M519 830L497 843M545 832L566 819M545 832L529 851M545 832L558 850"/>
<circle class="hg" cx="519" cy="830" r="4.5"/>
<circle class="hg" cx="545" cy="832" r="4.5"/>
<text class="p"><tspan x="546" y="841">Pentose and glucuronate</tspan><tspan x="546" y="847">interconversions</tspan></text>
<circle class="r" cx="502" cy="810" r="1.9"/><text class="n" x="500" y="818">Y71F9B.9</text>
<circle class="g" cx="536" cy="810" r="1.9"/><text class="n" x="537" y="818">ugt-62</text>
<circle class="g" cx="566" cy="819" r="1.9"/><text class="n" x="569" y="827">aass-2</text>
<circle class="g" cx="497" cy="843" r="1.9"/><text class="n" x="492" y="851">R08D7.7</text>
<circle class="g" cx="529" cy="851" r="1.9"/><text class="n" x="530" y="859">ugt-46</text>
<circle class="r" cx="558" cy="850" r="1.9"/><text class="n" x="557" y="858">mmab-1</text>
</g>
</svg>
